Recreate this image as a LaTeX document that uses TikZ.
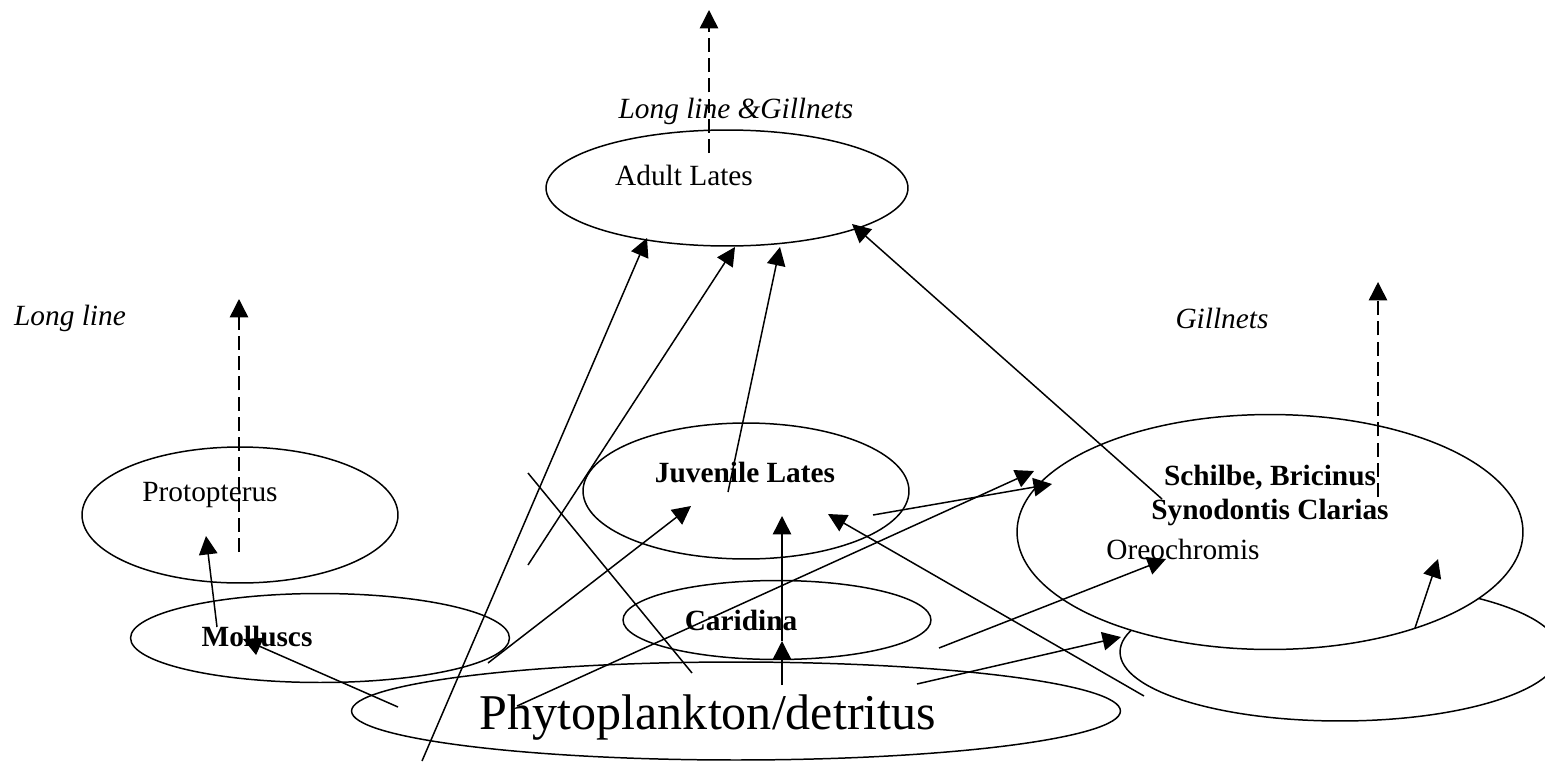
\documentclass[tikz,border=0pt]{standalone}
\usepackage{fontspec}
\setmainfont{Liberation Serif}
\usetikzlibrary{shapes.geometric,arrows.meta}

\begin{document}
\begin{tikzpicture}[x=0.02cm, y=-0.02cm,
	pool/.style={ellipse, draw=black, line width=0.85pt, inner sep=0pt},
	taxon/.style={inner sep=0pt, font=\fontsize{16.7}{20}\selectfont},
	btaxon/.style={taxon, font=\fontsize{16.7}{20}\selectfont\bfseries},
	gear/.style={taxon, font=\fontsize{16.7}{20}\selectfont\itshape},
	feed/.style={draw=black, line width=0.85pt, -{Triangle[length=10.5pt, width=10.5pt]}},
	catch/.style={feed, dash pattern=on 8pt off 3.5pt},
	bare/.style={draw=black, line width=0.85pt}]
				\useasboundingbox (0,0) rectangle (1545,761);
				
				% pools
				\node[pool, minimum width=7.24cm, minimum height=2.32cm] (adult) at (727,188){};
				\node[pool, minimum width=6.32cm, minimum height=2.72cm] (proto) at (240,515){};
				\node[pool, minimum width=7.58cm, minimum height=1.78cm] (mollusc) at (320,638){};
				\node[pool, minimum width=6.52cm, minimum height=2.72cm] (juvenile) at (746,491){};
				\node[pool, minimum width=6.16cm, minimum height=1.58cm] (caridina) at (777,620){};
				\node[pool, minimum width=15.38cm, minimum height=1.96cm] (phyto) at (736,711){};
				\node[pool, minimum width=8.8cm, minimum height=2.76cm] (bottom) at (1340,652){};
				\node[pool, fill=white, minimum width=10.12cm, minimum height=4.7cm] (schilbe) at (1270,532){};
				
				% texts
				\node[taxon] (adult-t) at (684,175){Adult Lates};
				\node[taxon] (proto-t) at (210,495){Protopterus};
				\node[btaxon] (mollusc-t) at (257,636){Molluscs};
				\node[btaxon] (juvenile-t) at (745,472){Juvenile Lates};
				\node[btaxon] (caridina-t) at (741,620){Caridina};
				\node[taxon, font=\fontsize{28.5}{32}\selectfont] (phyto-t) at (708,718){Phytoplankton/detritus};
				\node[btaxon] (schilbe-t1) at (1270,478){Schilbe, Bricinus};
				\node[btaxon] (schilbe-t2) at (1270,512){Synodontis Clarias};
				\node[taxon] (oreo-t) at (1183,549){Oreochromis};
				\node[gear] (gear-ad) at (736,111){Long line \&Gillnets};
				\node[gear] (gear-pr) at (70,318){Long line};
				\node[gear] (gear-sc) at (1222,318){Gillnets};
				
				% loose ends
				\coordinate (ad-top) at (709,153);
				\coordinate (ad-catch) at (709,10);
				\coordinate (pr-top) at (239,552);
				\coordinate (pr-catch) at (239,299);
				\coordinate (sc-top) at (1378,497);
				\coordinate (sc-catch) at (1378,282);
				\coordinate (ll-foot) at (422,761);
				\coordinate (ad-in1) at (647,238);
				\coordinate (jv-up1) at (528,565);
				\coordinate (ad-in2) at (735,247);
				\coordinate (jv-up2) at (728,492);
				\coordinate (ad-in3) at (780,247);
				\coordinate (sc-up) at (1162,499);
				\coordinate (ad-in4) at (852,224);
				\coordinate (mo-out1) at (217,627);
				\coordinate (pr-in) at (206,536);
				\coordinate (ph-out1) at (398,707);
				\coordinate (mo-in) at (243,639);
				\coordinate (mo-out2) at (488,663);
				\coordinate (jv-in1) at (691,506);
				\coordinate (ph-out2) at (782,685);
				\coordinate (ca-in) at (782,641);
				\coordinate (jv-in2) at (782,516);
				\coordinate (jv-side) at (528,473);
				\coordinate (ph-side) at (692,673);
				\coordinate (jv-out) at (873,515);
				\coordinate (sc-in1) at (1052,484);
				\coordinate (ph-out3) at (517,706);
				\coordinate (sc-in2) at (1034,471);
				\coordinate (ca-out) at (939,648);
				\coordinate (sc-in3) at (1166,559);
				\coordinate (ph-out4) at (917,684);
				\coordinate (bt-in) at (1121,637);
				\coordinate (bt-out1) at (1144,696);
				\coordinate (jv-in3) at (828,514);
				\coordinate (bt-out2) at (1415,628);
				\coordinate (sc-in4) at (1438,559);
				
				% catches
				\path (ad-top) edge[catch] (ad-catch);
				\path (pr-top) edge[catch] (pr-catch);
				\path (sc-top) edge[catch] (sc-catch);
				
				% feeding links
				\path (ll-foot) edge[feed] (ad-in1);
				\path (jv-up1) edge[feed] (ad-in2);
				\path (jv-up2) edge[feed] (ad-in3);
				\path (sc-up) edge[feed] (ad-in4);
				\path (mo-out1) edge[feed] (pr-in);
				\path (ph-out1) edge[feed] (mo-in);
				\path (mo-out2) edge[feed] (jv-in1);
				\path (ph-out2) edge[feed] (ca-in);
				\path (ca-in) edge[feed] (jv-in2);
				\path (jv-side) edge[bare] (ph-side);
				\path (jv-out) edge[feed] (sc-in1);
				\path (ph-out3) edge[feed] (sc-in2);
				\path (ca-out) edge[feed] (sc-in3);
				\path (ph-out4) edge[feed] (bt-in);
				\path (bt-out1) edge[feed] (jv-in3);
				\path (bt-out2) edge[feed] (sc-in4);
\end{tikzpicture}
\end{document}
